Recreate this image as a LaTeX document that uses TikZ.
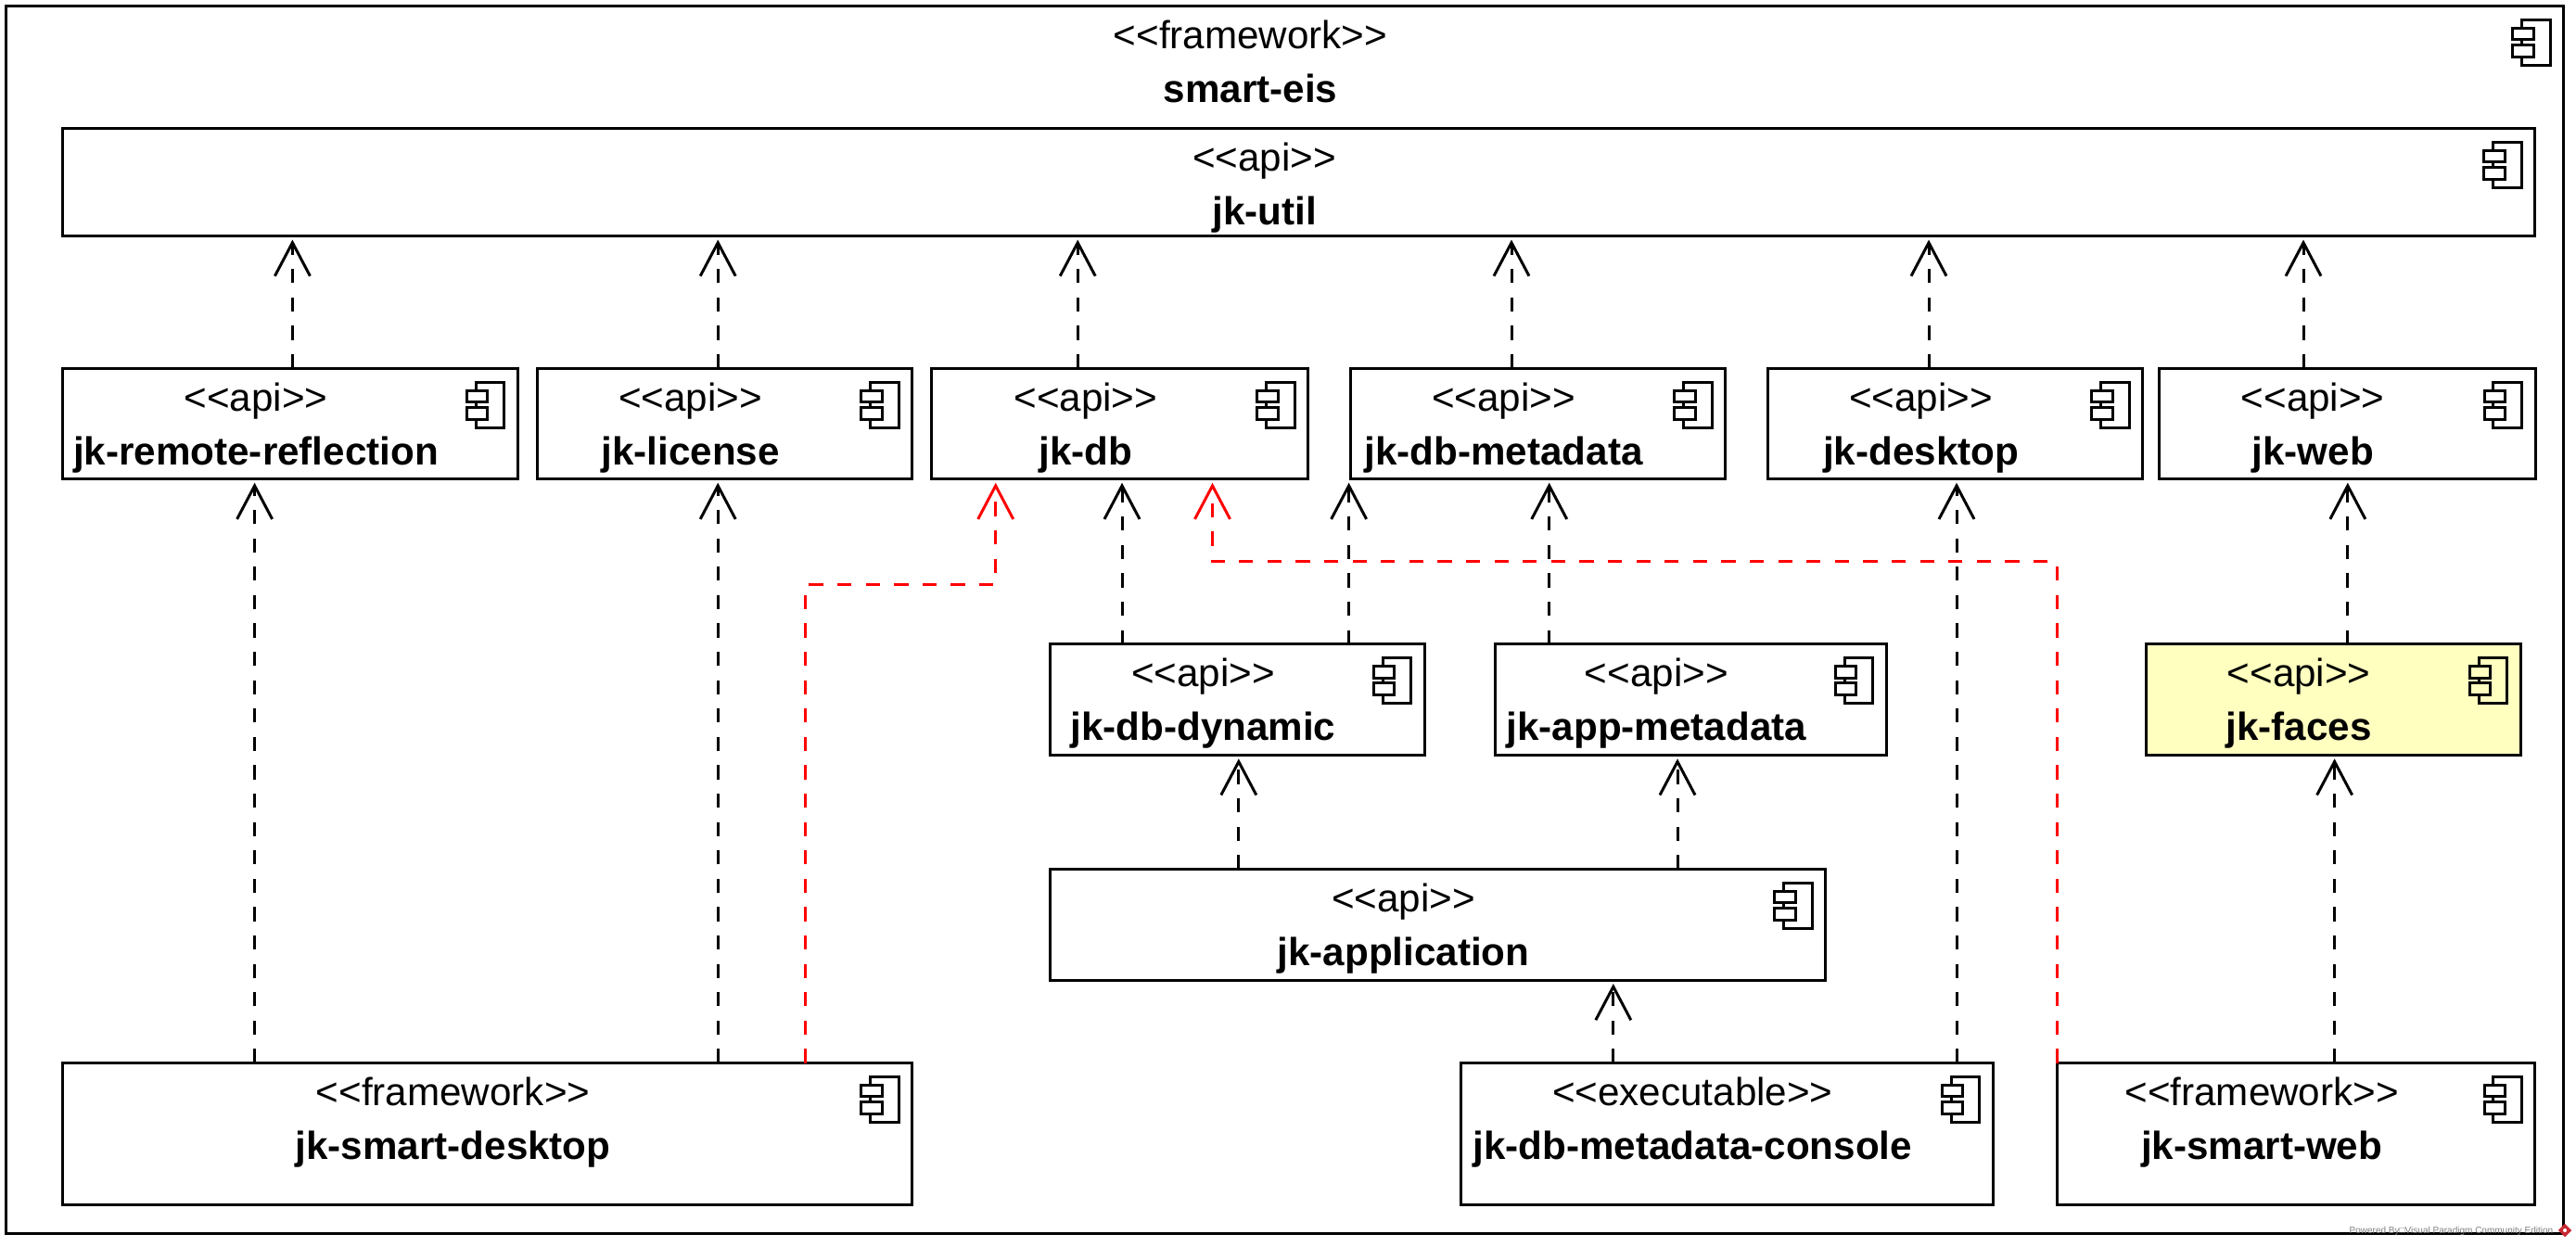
\documentclass[tikz,border=0pt]{standalone}
\usepackage{fontspec}
\setmainfont{Liberation Sans}
\usepackage{xcolor}
\usetikzlibrary{arrows.meta,shapes.geometric}
\definecolor{facesyellow}{RGB}{255,255,192}
\definecolor{vplogored}{RGB}{200,40,50}

\tikzset{
  comp/.style={draw, line width=0.85pt, anchor=north west, inner sep=0pt, outer sep=0pt},
  stereo/.style={anchor=base, inner sep=0pt, font=\fontsize{12}{14}\selectfont},
  title/.style={anchor=base, inner sep=0pt, font=\fontsize{12}{14}\selectfont\bfseries},
  compicon/.pic={
    \draw[line width=0.85pt, fill=#1] (-0.451,0.15) rectangle (-0.145,0.64);
    \draw[line width=0.85pt, fill=#1] (-0.547,0.24) rectangle (-0.325,0.363);
    \draw[line width=0.85pt, fill=#1] (-0.547,0.42) rectangle (-0.325,0.55);
  },
  dep/.style={line width=0.85pt, dash pattern=on 0.153cm off 0.153cm,
    -{Straight Barb[length=0.36cm,width=0.38cm]}, shorten >=0.04cm},
  depred/.style={dep, red}
}

% fill colour, name, left, top, width, height, stereotype, title
\newcommand{\compbox}[8][white]{
  \node[comp, fill=#1, minimum width=#5cm, minimum height=#6cm] (#2) at (#3,#4) {};
  \node[stereo] (#2s) at ([xshift=-0.37cm,yshift=-0.46cm]#2.north) {<{}<#7>{}>};
  \node[title] (#2t) at ([xshift=-0.37cm,yshift=-1.04cm]#2.north) {#8};
  \pic at (#2.north east) {compicon=#1};
}

\begin{document}
\begin{tikzpicture}[y=-1cm]
\useasboundingbox (0,0) rectangle (27.78,13.44);

\compbox{smarteis}{0.065}{0.065}{27.58}{13.24}{framework}{smart-eis}
\compbox{util}{0.676}{1.385}{26.66}{1.16}{api}{jk-util}

\compbox{remote}{0.676}{3.972}{4.908}{1.195}{api}{jk-remote-reflection}
\compbox{license}{5.796}{3.972}{4.04}{1.195}{api}{jk-license}
\compbox{db}{10.049}{3.972}{4.057}{1.195}{api}{jk-db}
\compbox{dbmeta}{14.566}{3.972}{4.04}{1.195}{api}{jk-db-metadata}
\compbox{desktop}{19.066}{3.972}{4.04}{1.195}{api}{jk-desktop}
\compbox{web}{23.283}{3.972}{4.057}{1.195}{api}{jk-web}

\compbox{dynamic}{11.324}{6.948}{4.04}{1.195}{api}{jk-db-dynamic}
\compbox{appmeta}{16.125}{6.948}{4.217}{1.195}{api}{jk-app-metadata}
\compbox[facesyellow]{faces}{23.141}{6.948}{4.04}{1.195}{api}{jk-faces}
\compbox{application}{11.324}{9.375}{8.362}{1.195}{api}{jk-application}

\compbox{smartdesktop}{0.676}{11.466}{9.16}{1.53}{framework}{jk-smart-desktop}
\compbox{console}{15.753}{11.466}{5.74}{1.53}{executable}{jk-db-metadata-console}
\compbox{smartweb}{22.183}{11.466}{5.156}{1.53}{framework}{jk-smart-web}

% dependencies onto jk-util
\draw[dep] (remote.north -| 3.154,0) -- (util.south -| 3.154,0);
\draw[dep] (license.north -| 7.742,0) -- (util.south -| 7.742,0);
\draw[dep] (db.north -| 11.622,0) -- (util.south -| 11.622,0);
\draw[dep] (dbmeta.north -| 16.3,0) -- (util.south -| 16.3,0);
\draw[dep] (desktop.north -| 20.8,0) -- (util.south -| 20.8,0);
\draw[dep] (web.north -| 24.84,0) -- (util.south -| 24.84,0);

\draw[dep] (smartdesktop.north -| 2.746,0) -- (remote.south -| 2.746,0);
\draw[dep] (smartdesktop.north -| 7.742,0) -- (license.south -| 7.742,0);
\draw[dep] (dynamic.north -| 12.1,0) -- (db.south -| 12.1,0);
\draw[dep] (dynamic.north -| 14.546,0) -- (dbmeta.south -| 14.546,0);
\draw[dep] (appmeta.north -| 16.707,0) -- (dbmeta.south -| 16.707,0);
\draw[dep] (console.north -| 21.1,0) -- (desktop.south -| 21.1,0);
\draw[dep] (faces.north -| 25.318,0) -- (web.south -| 25.318,0);
\draw[dep] (smartweb.north -| 25.176,0) -- (faces.south -| 25.176,0);
\draw[dep] (application.north -| 13.358,0) -- (dynamic.south -| 13.358,0);
\draw[dep] (application.north -| 18.09,0) -- (appmeta.south -| 18.09,0);
\draw[dep] (console.north -| 17.398,0) -- (application.south -| 17.398,0);

% the two red ones
\draw[depred] (smartdesktop.north -| 8.681,0) -- (8.681,6.307) -- (10.737,6.307) -- (db.south -| 10.737,0);
\draw[depred] (smartweb.north west) -- (22.183,6.059) -- (13.075,6.059) -- (db.south -| 13.075,0);

\node[inner sep=0pt, text=gray, font=\fontsize{2.85}{3}\selectfont, anchor=east] (powered) at (27.54,13.28) {Powered By□Visual Paradigm Community Edition};
\node[diamond, fill=vplogored, inner sep=0pt, minimum size=0.15cm] (vplogo) at (27.66,13.27) {};
\fill[white] (vplogo.center) circle (0.02);
\end{tikzpicture}
\end{document}
